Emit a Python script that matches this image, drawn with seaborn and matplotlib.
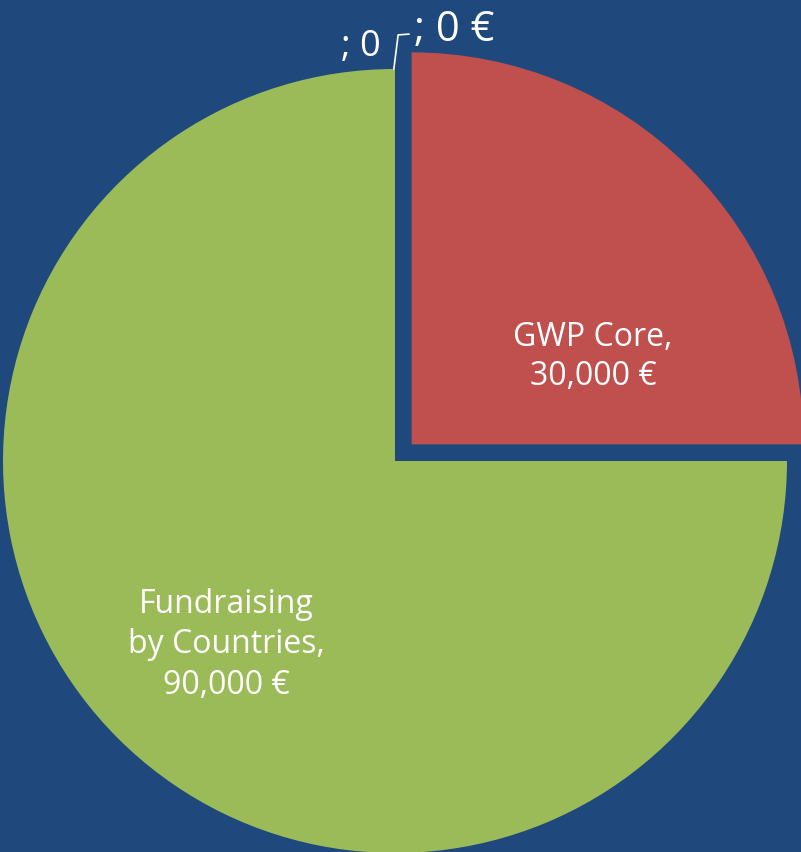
import numpy as np
import matplotlib
matplotlib.use("Agg")
import matplotlib.pyplot as plt
import seaborn as sns

# data
categories = ["Fundraising\nby Countries", "GWP Core", "", ""]
values = [90000, 30000, 0, 0]
value_labels = ["90,000 €", "30,000 €", "; 0", "; 0 €"]
colors = ["#9BBB59", "#C0504D", "#4F81BD", "#8064A2"]
explode = [0, 0.06, 0, 0]

bg = "#1F497D"
sns.set_theme(style="white", rc={"figure.facecolor": bg, "axes.facecolor": bg})
plt.rcParams['font.family'] = ['Open Sans', 'DejaVu Sans']

fig = plt.figure(figsize=(8.01, 8.52), dpi=100)
ax = fig.add_axes([0, 0, 1, 1])
ax.set_facecolor(bg)

wedges, _ = ax.pie(values, colors=colors, explode=explode, startangle=90,
                   counterclock=True, radius=1.0,
                   wedgeprops=dict(linewidth=0))

# pixel mapping: pie centre at (395, 461), radius 392 px
ax.set_xlim(-395 / 392, (801 - 395) / 392)
ax.set_ylim(-(852 - 461) / 392, 461 / 392)
ax.set_aspect("equal", adjustable="datalim")
ax.axis("off")

# slice labels
ax.text(-0.431, -0.469, categories[0] + ",\n" + value_labels[0], color="white",
        fontsize=23, ha="center", va="center", linespacing=1.3)
ax.text(0.505, 0.265, categories[1] + ",\n" + value_labels[1], color="white",
        fontsize=23, ha="center", va="center", linespacing=1.25)

# zero slices at the top with leader line
th = np.deg2rad(wedges[2].theta1)
x0, y0 = np.cos(th), np.sin(th)
ax.text(x0 - 0.087, y0 + 0.055, value_labels[2], color="white", fontsize=26,
        ha="center", va="center")
ax.plot([x0 - 0.003, x0 + 0.008, x0 + 0.036], [y0, y0 + 0.087, y0 + 0.089],
        color="white", lw=1.2)
ax.text(x0 + 0.15, y0 + 0.1, value_labels[3], color="white", fontsize=30,
        ha="center", va="center")

fig.savefig("out.png", dpi=100, facecolor=bg)
